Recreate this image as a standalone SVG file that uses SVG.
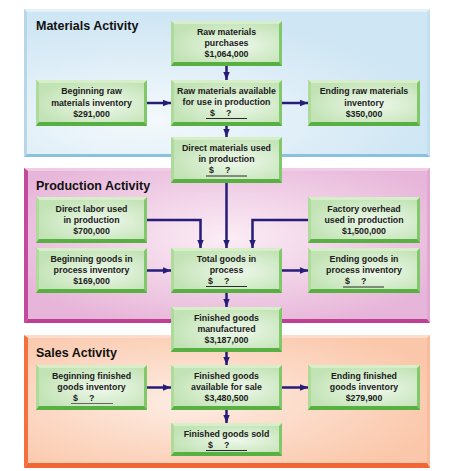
<svg xmlns="http://www.w3.org/2000/svg" width="454" height="471" viewBox="0 0 454 471">
<defs>
<style>
.t{font-family:"Liberation Sans",Arial,sans-serif;font-weight:bold;font-size:8.8px;fill:#1b1b1b;text-anchor:middle}
.h{font-family:"Liberation Sans",Arial,sans-serif;font-weight:bold;font-size:12.5px;fill:#111}
.bt{fill:#d6efc8}.bl{fill:#aedb9a}.bb{fill:#58b043}.br{fill:#80c86a}.in{fill:url(#gNode)}
.u{stroke:#2a2a2a;stroke-width:1}
.c{fill:none;stroke:#251d78;stroke-width:2.5;marker-end:url(#ah)}
</style>
<radialGradient id="gNode" cx="0.6" cy="0.55" r="0.65">
<stop offset="0" stop-color="#eef8eb"/><stop offset="1" stop-color="#c2e3b5"/>
</radialGradient>
<radialGradient id="gBlue" cx="0.3" cy="0.75" r="0.7">
<stop offset="0" stop-color="#f4f9fc"/><stop offset="1" stop-color="#cfe6f4"/>
</radialGradient>
<radialGradient id="gPink" cx="0.5" cy="0.45" r="0.6">
<stop offset="0" stop-color="#fbedf5"/><stop offset="1" stop-color="#e7b5d9"/>
</radialGradient>
<radialGradient id="gOrange" cx="0.4" cy="0.5" r="0.65">
<stop offset="0" stop-color="#fdede4"/><stop offset="1" stop-color="#fbc7aa"/>
</radialGradient>
<marker id="ah" markerUnits="userSpaceOnUse" markerWidth="9" markerHeight="8" refX="8" refY="4" orient="auto">
<path d="M0,0.8 L8,4 L0,7.2 z" fill="#251d78"/>
</marker>
</defs>

<g id="panel-materials">
<rect x="24" y="9" width="406" height="148" fill="url(#gBlue)"/>
<polygon points="24,9 430,9 427,12 27,12" fill="#e4f1f9"/>
<polygon points="24,9 27,12 27,154 24,157" fill="#b7d6e8"/>
<polygon points="430,9 427,12 427,154 430,157" fill="#c2e0f1"/>
<polygon points="24,157 27,154 427,154 430,157" fill="#89c2de"/>
<text class="h" x="36" y="30">Materials Activity</text>
</g>
<g id="panel-production">
<rect x="24" y="168" width="406" height="155" fill="url(#gPink)"/>
<polygon points="24,168 430,168 427,171 28,171" fill="#f1cde5"/>
<polygon points="430,168 427,171 427,319 430,323" fill="#e3a8d1"/>
<polygon points="24,168 28,171 28,319 24,323" fill="#c3499d"/>
<polygon points="24,323 28,319 427,319 430,323" fill="#bf3f94"/>
<text class="h" x="36" y="190">Production Activity</text>
</g>
<g id="panel-sales">
<rect x="24" y="335" width="406" height="133" fill="url(#gOrange)"/>
<polygon points="24,335 430,335 427,338 28,338" fill="#fddccb"/>
<polygon points="430,335 427,338 427,463 430,468" fill="#fbbc9b"/>
<polygon points="24,335 28,338 28,463 24,468" fill="#f4713f"/>
<polygon points="24,468 28,463 427,463 430,468" fill="#f26534"/>
<text class="h" x="36" y="357">Sales Activity</text>
</g>

<g id="connectors">
<line class="c" x1="226.5" y1="66" x2="226.5" y2="80"/>
<line class="c" x1="147" y1="103" x2="171" y2="103"/>
<line class="c" x1="282" y1="103" x2="308" y2="103"/>
<line class="c" x1="226.5" y1="126" x2="226.5" y2="137"/>
<line class="c" x1="226.5" y1="183" x2="226.5" y2="248"/>
<polyline class="c" points="147,220 200.5,220 200.5,248"/>
<polyline class="c" points="308,220 252.5,220 252.5,248"/>
<line class="c" x1="147" y1="270.5" x2="171" y2="270.5"/>
<line class="c" x1="282" y1="270.5" x2="308" y2="270.5"/>
<line class="c" x1="226.5" y1="293" x2="226.5" y2="307"/>
<line class="c" x1="226.5" y1="352" x2="226.5" y2="365"/>
<line class="c" x1="147" y1="387.5" x2="171" y2="387.5"/>
<line class="c" x1="282" y1="387.5" x2="308" y2="387.5"/>
<line class="c" x1="226.5" y1="410" x2="226.5" y2="423"/>
</g>

<g id="raw-materials-purchases">
<rect class="br" x="171" y="21" width="111" height="45"/>
<polygon class="bt" points="171,21 282,21 279,24 174,24"/>
<polygon class="bl" points="171,21 174,24 174,62 171,66"/>
<polygon class="bb" points="171,66 174,62 279,62 282,66"/>
<rect class="in" x="174" y="24" width="105" height="38"/>
<text class="t" x="226.5" y="35">Raw materials</text>
<text class="t" x="226.5" y="46">purchases</text>
<text class="t" x="226.5" y="57">$1,064,000</text>
</g>

<g id="beginning-raw-materials">
<rect class="br" x="36" y="80" width="111" height="46"/>
<polygon class="bt" points="36,80 147,80 144,83 39,83"/>
<polygon class="bl" points="36,80 39,83 39,122 36,126"/>
<polygon class="bb" points="36,126 39,122 144,122 147,126"/>
<rect class="in" x="39" y="83" width="105" height="39"/>
<text class="t" x="91.5" y="94">Beginning raw</text>
<text class="t" x="91.5" y="105.5">materials inventory</text>
<text class="t" x="91.5" y="116.5">$291,000</text>
</g>

<g id="raw-materials-available">
<rect class="br" x="171" y="80" width="111" height="46"/>
<polygon class="bt" points="171,80 282,80 279,83 174,83"/>
<polygon class="bl" points="171,80 174,83 174,122 171,126"/>
<polygon class="bb" points="171,126 174,122 279,122 282,126"/>
<rect class="in" x="174" y="83" width="105" height="39"/>
<text class="t" x="226.5" y="93.5">Raw materials available</text>
<text class="t" x="226.5" y="104.5">for use in production</text>
<text class="t" x="210" y="115.5" style="text-anchor:start">$<tspan dx="11">?</tspan></text>
<line class="u" x1="206" y1="118.5" x2="247" y2="118.5"/>
</g>

<g id="ending-raw-materials">
<rect class="br" x="308" y="80" width="112" height="46"/>
<polygon class="bt" points="308,80 420,80 417,83 311,83"/>
<polygon class="bl" points="308,80 311,83 311,122 308,126"/>
<polygon class="bb" points="308,126 311,122 417,122 420,126"/>
<rect class="in" x="311" y="83" width="106" height="39"/>
<text class="t" x="364" y="94">Ending raw materials</text>
<text class="t" x="364" y="105.5">inventory</text>
<text class="t" x="364" y="116.5">$350,000</text>
</g>

<g id="direct-materials-used">
<rect class="br" x="171" y="137" width="111" height="46"/>
<polygon class="bt" points="171,137 282,137 279,140 174,140"/>
<polygon class="bl" points="171,137 174,140 174,179 171,183"/>
<polygon class="bb" points="171,183 174,179 279,179 282,183"/>
<rect class="in" x="174" y="140" width="105" height="39"/>
<text class="t" x="226.5" y="151">Direct materials used</text>
<text class="t" x="226.5" y="162">in production</text>
<text class="t" x="209" y="172.5" style="text-anchor:start">$<tspan dx="11">?</tspan></text>
<line class="u" x1="206" y1="176" x2="247" y2="176"/>
</g>

<g id="direct-labor">
<rect class="br" x="36" y="197" width="111" height="46"/>
<polygon class="bt" points="36,197 147,197 144,200 39,200"/>
<polygon class="bl" points="36,197 39,200 39,239 36,243"/>
<polygon class="bb" points="36,243 39,239 144,239 147,243"/>
<rect class="in" x="39" y="200" width="105" height="39"/>
<text class="t" x="91.5" y="211.5">Direct labor used</text>
<text class="t" x="91.5" y="222.5">in production</text>
<text class="t" x="91.5" y="234">$700,000</text>
</g>

<g id="factory-overhead">
<rect class="br" x="308" y="197" width="112" height="46"/>
<polygon class="bt" points="308,197 420,197 417,200 311,200"/>
<polygon class="bl" points="308,197 311,200 311,239 308,243"/>
<polygon class="bb" points="308,243 311,239 417,239 420,243"/>
<rect class="in" x="311" y="200" width="106" height="39"/>
<text class="t" x="364" y="211.5">Factory overhead</text>
<text class="t" x="364" y="222.5">used in production</text>
<text class="t" x="364" y="234">$1,500,000</text>
</g>

<g id="beginning-goods-in-process">
<rect class="br" x="36" y="248" width="111" height="45"/>
<polygon class="bt" points="36,248 147,248 144,251 39,251"/>
<polygon class="bl" points="36,248 39,251 39,289 36,293"/>
<polygon class="bb" points="36,293 39,289 144,289 147,293"/>
<rect class="in" x="39" y="251" width="105" height="38"/>
<text class="t" x="91.5" y="261.5">Beginning goods in</text>
<text class="t" x="91.5" y="273">process inventory</text>
<text class="t" x="91.5" y="284">$169,000</text>
</g>

<g id="total-goods-in-process">
<rect class="br" x="171" y="248" width="111" height="45"/>
<polygon class="bt" points="171,248 282,248 279,251 174,251"/>
<polygon class="bl" points="171,248 174,251 174,289 171,293"/>
<polygon class="bb" points="171,293 174,289 279,289 282,293"/>
<rect class="in" x="174" y="251" width="105" height="38"/>
<text class="t" x="226.5" y="261.5">Total goods in</text>
<text class="t" x="226.5" y="272.5">process</text>
<text class="t" x="208" y="283.5" style="text-anchor:start">$<tspan dx="11">?</tspan></text>
<line class="u" x1="206" y1="286.5" x2="247" y2="286.5"/>
</g>

<g id="ending-goods-in-process">
<rect class="br" x="308" y="248" width="112" height="45"/>
<polygon class="bt" points="308,248 420,248 417,251 311,251"/>
<polygon class="bl" points="308,248 311,251 311,289 308,293"/>
<polygon class="bb" points="308,293 311,289 417,289 420,293"/>
<rect class="in" x="311" y="251" width="106" height="38"/>
<text class="t" x="364" y="261.5">Ending goods in</text>
<text class="t" x="364" y="273">process inventory</text>
<text class="t" x="345" y="284" style="text-anchor:start">$<tspan dx="11">?</tspan></text>
<line class="u" x1="343" y1="287" x2="384" y2="287"/>
</g>

<g id="finished-goods-manufactured">
<rect class="br" x="171" y="307" width="111" height="45"/>
<polygon class="bt" points="171,307 282,307 279,310 174,310"/>
<polygon class="bl" points="171,307 174,310 174,348 171,352"/>
<polygon class="bb" points="171,352 174,348 279,348 282,352"/>
<rect class="in" x="174" y="310" width="105" height="38"/>
<text class="t" x="226.5" y="321">Finished goods</text>
<text class="t" x="226.5" y="332">manufactured</text>
<text class="t" x="226.5" y="343">$3,187,000</text>
</g>

<g id="beginning-finished-goods">
<rect class="br" x="36" y="365" width="111" height="45"/>
<polygon class="bt" points="36,365 147,365 144,368 39,368"/>
<polygon class="bl" points="36,365 39,368 39,406 36,410"/>
<polygon class="bb" points="36,410 39,406 144,406 147,410"/>
<rect class="in" x="39" y="368" width="105" height="38"/>
<text class="t" x="91.5" y="378.5">Beginning finished</text>
<text class="t" x="91.5" y="389.5">goods inventory</text>
<text class="t" x="73" y="400.5" style="text-anchor:start">$<tspan dx="11">?</tspan></text>
<line x1="71" y1="403.5" x2="113" y2="403.5" stroke="#666" stroke-width="1"/>
</g>

<g id="finished-goods-available">
<rect class="br" x="171" y="365" width="111" height="45"/>
<polygon class="bt" points="171,365 282,365 279,368 174,368"/>
<polygon class="bl" points="171,365 174,368 174,406 171,410"/>
<polygon class="bb" points="171,410 174,406 279,406 282,410"/>
<rect class="in" x="174" y="368" width="105" height="38"/>
<text class="t" x="226.5" y="378.5">Finished goods</text>
<text class="t" x="226.5" y="389.5">available for sale</text>
<text class="t" x="226.5" y="400.5">$3,480,500</text>
</g>

<g id="ending-finished-goods">
<rect class="br" x="308" y="365" width="112" height="45"/>
<polygon class="bt" points="308,365 420,365 417,368 311,368"/>
<polygon class="bl" points="308,365 311,368 311,406 308,410"/>
<polygon class="bb" points="308,410 311,406 417,406 420,410"/>
<rect class="in" x="311" y="368" width="106" height="38"/>
<text class="t" x="364" y="378.5">Ending finished</text>
<text class="t" x="364" y="389.5">goods inventory</text>
<text class="t" x="364" y="400.5">$279,900</text>
</g>

<g id="finished-goods-sold">
<rect class="br" x="171" y="423" width="111" height="33"/>
<polygon class="bt" points="171,423 282,423 279,426 174,426"/>
<polygon class="bl" points="171,423 174,426 174,452 171,456"/>
<polygon class="bb" points="171,456 174,452 279,452 282,456"/>
<rect class="in" x="174" y="426" width="105" height="26"/>
<text class="t" x="226.5" y="436.5">Finished goods sold</text>
<text class="t" x="208" y="447.5" style="text-anchor:start">$<tspan dx="11">?</tspan></text>
<line class="u" x1="206" y1="450.5" x2="247" y2="450.5"/>
</g>
</svg>
